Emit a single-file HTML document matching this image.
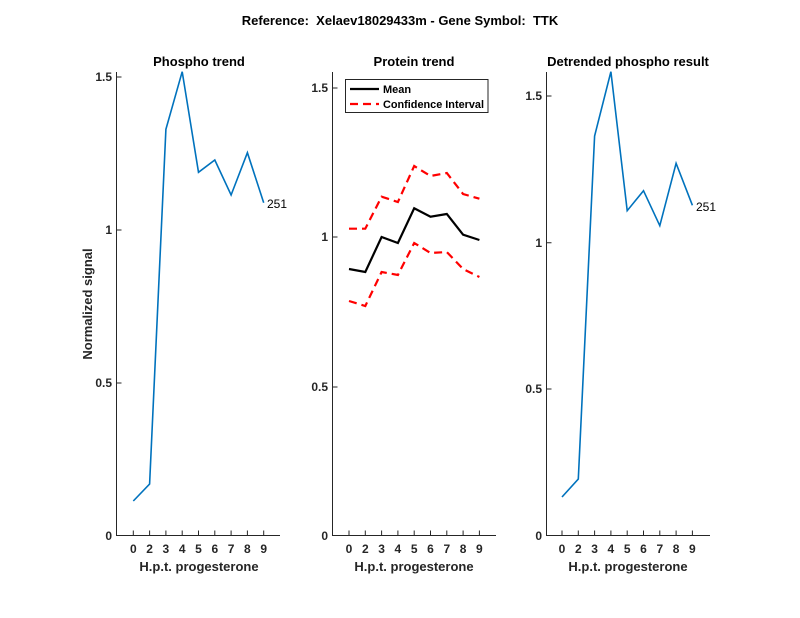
<!DOCTYPE html>
<html><head><meta charset="utf-8"><style>
body{margin:0;background:#fff}
svg{display:block;font-family:"Liberation Sans",Arial,sans-serif}
</style></head><body>
<svg width="800" height="618" viewBox="0 0 800 618" xmlns="http://www.w3.org/2000/svg">
<rect width="800" height="618" fill="#fff"/>
<text x="400" y="25" text-anchor="middle" font-size="13" font-weight="bold" fill="#000">Reference:&#160; Xelaev18029433m - Gene Symbol:&#160; TTK</text>

<!-- Panel 1 -->
<g stroke="#262626" stroke-width="1" fill="none">
<path d="M116.5 72 V535.5 H280"/>
<path d="M116.5 77 h5 M116.5 230 h5 M116.5 383 h5"/>
<path d="M133.3 535.5 v-5 M149.6 535.5 v-5 M165.9 535.5 v-5 M182.2 535.5 v-5 M198.5 535.5 v-5 M214.8 535.5 v-5 M231.1 535.5 v-5 M247.4 535.5 v-5 M263.7 535.5 v-5"/>
</g>
<g font-size="12" font-weight="bold" fill="#262626" text-anchor="end">
<text x="112" y="540">0</text><text x="112" y="387">0.5</text><text x="112" y="234">1</text><text x="112" y="81">1.5</text>
</g>
<g font-size="12" font-weight="bold" fill="#262626" text-anchor="middle">
<text x="133.3" y="553">0</text><text x="149.6" y="553">2</text><text x="165.9" y="553">3</text><text x="182.2" y="553">4</text><text x="198.5" y="553">5</text><text x="214.8" y="553">6</text><text x="231.1" y="553">7</text><text x="247.4" y="553">8</text><text x="263.7" y="553">9</text>
</g>
<text x="199" y="571" text-anchor="middle" font-size="13" font-weight="bold" fill="#262626">H.p.t. progesterone</text>
<text x="199" y="66" text-anchor="middle" font-size="13" font-weight="bold" fill="#000">Phospho trend</text>
<text transform="translate(92 304) rotate(-90)" text-anchor="middle" font-size="13" font-weight="bold" fill="#262626">Normalized signal</text>
<polyline fill="none" stroke="#0072BD" stroke-width="1.6" points="133.3,501 149.6,484 165.9,129.3 182.2,71.7 198.5,172.3 214.8,160 231.1,195 247.4,152.7 263.7,202.7"/>
<text x="267" y="208" font-size="12" fill="#000">251</text>

<!-- Panel 2 -->
<g stroke="#262626" stroke-width="1" fill="none">
<path d="M332.5 72 V535.5 H496"/>
<path d="M332.5 88 h5 M332.5 237 h5 M332.5 387 h5"/>
<path d="M349 535.5 v-5 M365.3 535.5 v-5 M381.6 535.5 v-5 M397.9 535.5 v-5 M414.2 535.5 v-5 M430.5 535.5 v-5 M446.8 535.5 v-5 M463.1 535.5 v-5 M479.4 535.5 v-5"/>
</g>
<g font-size="12" font-weight="bold" fill="#262626" text-anchor="end">
<text x="328" y="540">0</text><text x="328" y="391">0.5</text><text x="328" y="241">1</text><text x="328" y="92">1.5</text>
</g>
<g font-size="12" font-weight="bold" fill="#262626" text-anchor="middle">
<text x="349" y="553">0</text><text x="365.3" y="553">2</text><text x="381.6" y="553">3</text><text x="397.9" y="553">4</text><text x="414.2" y="553">5</text><text x="430.5" y="553">6</text><text x="446.8" y="553">7</text><text x="463.1" y="553">8</text><text x="479.4" y="553">9</text>
</g>
<text x="414" y="571" text-anchor="middle" font-size="13" font-weight="bold" fill="#262626">H.p.t. progesterone</text>
<text x="414" y="66" text-anchor="middle" font-size="13" font-weight="bold" fill="#000">Protein trend</text>
<polyline fill="none" stroke="#000" stroke-width="2.2" points="349,269 365.3,272 381.6,237 397.9,243 414.2,208.3 430.5,216.7 446.8,214 463.1,234.7 479.4,240"/>
<polyline fill="none" stroke="#f00" stroke-width="2.2" stroke-dasharray="8,5" points="349,228.7 365.3,228.7 381.6,196.7 397.9,202 414.2,166 430.5,176 446.8,173 463.1,194 479.4,198.7"/>
<polyline fill="none" stroke="#f00" stroke-width="2.2" stroke-dasharray="8,5" points="349,301 365.3,306 381.6,272 397.9,275 414.2,243 430.5,253 446.8,252 463.1,269 479.4,277"/>
<rect x="345.5" y="79.5" width="142.5" height="33" fill="#fff" stroke="#262626" stroke-width="1"/>
<line x1="350" y1="89" x2="379" y2="89" stroke="#000" stroke-width="2.2"/>
<line x1="350" y1="104" x2="379" y2="104" stroke="#f00" stroke-width="2.2" stroke-dasharray="8,5"/>
<text x="383" y="93" font-size="11" font-weight="bold" fill="#000">Mean</text>
<text x="383" y="108" font-size="11" font-weight="bold" fill="#000" textLength="101" lengthAdjust="spacingAndGlyphs">Confidence Interval</text>

<!-- Panel 3 -->
<g stroke="#262626" stroke-width="1" fill="none">
<path d="M546.5 72 V535.5 H710"/>
<path d="M546.5 96 h5 M546.5 242.7 h5 M546.5 389 h5"/>
<path d="M562 535.5 v-5 M578.3 535.5 v-5 M594.6 535.5 v-5 M610.9 535.5 v-5 M627.2 535.5 v-5 M643.5 535.5 v-5 M659.8 535.5 v-5 M676.1 535.5 v-5 M692.4 535.5 v-5"/>
</g>
<g font-size="12" font-weight="bold" fill="#262626" text-anchor="end">
<text x="542" y="540">0</text><text x="542" y="393">0.5</text><text x="542" y="247">1</text><text x="542" y="100">1.5</text>
</g>
<g font-size="12" font-weight="bold" fill="#262626" text-anchor="middle">
<text x="562" y="553">0</text><text x="578.3" y="553">2</text><text x="594.6" y="553">3</text><text x="610.9" y="553">4</text><text x="627.2" y="553">5</text><text x="643.5" y="553">6</text><text x="659.8" y="553">7</text><text x="676.1" y="553">8</text><text x="692.4" y="553">9</text>
</g>
<text x="628" y="571" text-anchor="middle" font-size="13" font-weight="bold" fill="#262626">H.p.t. progesterone</text>
<text x="628" y="66" text-anchor="middle" font-size="13" font-weight="bold" fill="#000">Detrended phospho result</text>
<polyline fill="none" stroke="#0072BD" stroke-width="1.6" points="562,497 578.3,479 594.6,136 610.9,71.7 627.2,210.7 643.5,190.7 659.8,225.7 676.1,163.3 692.4,205.3"/>
<text x="696" y="211" font-size="12" fill="#000">251</text>
</svg>
</body></html>
